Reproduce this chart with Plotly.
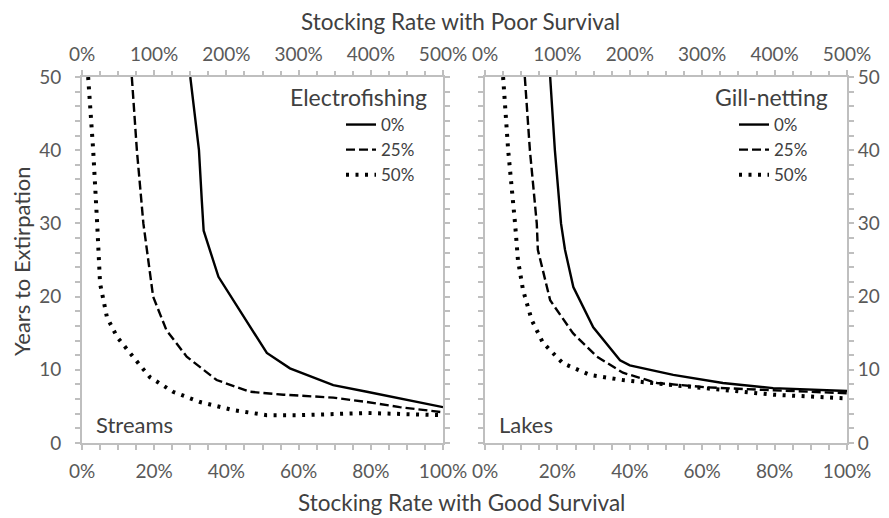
import plotly.graph_objects as go

# ---- data (x = stocking rate with good survival, %) ----
streams_x_0 = [30, 32.4, 33.2, 33.7, 37.8, 46.5, 51.2, 57.6, 69.6, 78.9, 100]
streams_y_0 = [50, 40, 33, 29, 22.7, 15.9, 12.3, 10.2, 7.9, 7.0, 4.9]
streams_x_25 = [13.8, 15.2, 17, 18, 19.7, 23.4, 29, 37.3, 46.5, 55.8, 69.6, 78.9, 88, 100]
streams_y_25 = [50, 40, 30, 26.4, 20, 15.4, 11.8, 8.6, 7.0, 6.6, 6.2, 5.6, 4.9, 4.2]
streams_x_50 = [1.7, 3.1, 4.2, 4.5, 5, 6.9, 9.7, 14.1, 18.8, 25.2, 32.7, 41.8, 51.2, 60.4, 78.9, 100]
streams_y_50 = [50, 40, 30, 26.4, 21.8, 17.2, 14.5, 11.8, 9.0, 7.0, 5.6, 4.5, 3.8, 3.8, 4.1, 3.8]

lakes_x_0 = [18, 19.3, 21, 22.1, 24.4, 29.9, 37.3, 40, 52, 65.7, 79.6, 100]
lakes_y_0 = [50, 40, 30, 26.4, 21.3, 15.8, 11.3, 10.6, 9.3, 8.2, 7.5, 7.1]
lakes_x_25 = [11, 12.4, 14.3, 14.6, 18, 24.3, 30.9, 38.1, 47.5, 61.3, 79.6, 100]
lakes_y_25 = [50, 40, 30, 26.4, 19.5, 15, 11.8, 9.6, 8.2, 7.6, 7.2, 6.8]
lakes_x_50 = [5, 6.4, 8.3, 9.1, 10.5, 12.9, 16, 21.5, 29, 38.1, 52, 65.7, 79.6, 100]
lakes_y_50 = [50, 40, 30, 25, 20.9, 16.8, 13.7, 10.9, 9.3, 8.6, 7.9, 7.2, 6.6, 6.1]

series_names = ["0%", "25%", "50%"]
good_range = [0, 100]
poor_range = [0, 500]
y_range = [0, 50]

FONT = "Lato"
AX = "#bfbfbf"
TXT = "#404040"
TICK = "#595959"
OFF = 8            # page body margin
FW, FH = 889 - OFF, 518 - OFF

def px(x):
    return (x - OFF) / FW

def py(y):
    return 1 - (y - OFF) / FH

styles = [dict(color="black", width=2.4),
          dict(color="black", width=2.4, dash="9px,4px"),
          dict(color="black", width=4, dash="3px,6.5px")]

fig = go.Figure()
for i, (x, y) in enumerate([(streams_x_0, streams_y_0), (streams_x_25, streams_y_25), (streams_x_50, streams_y_50)]):
    fig.add_trace(go.Scatter(x=x, y=y, mode="lines", name=series_names[i], line=styles[i],
                             xaxis="x", yaxis="y", legend="legend", legendgroup="s%d" % i))
for i, (x, y) in enumerate([(lakes_x_0, lakes_y_0), (lakes_x_25, lakes_y_25), (lakes_x_50, lakes_y_50)]):
    fig.add_trace(go.Scatter(x=x, y=y, mode="lines", name=series_names[i], line=styles[i],
                             xaxis="x2", yaxis="y2", legend="legend2", legendgroup="l%d" % i))
# carriers for the secondary (top) axes: draw nothing
fig.add_trace(go.Scatter(x=poor_range, y=y_range, mode="none", xaxis="x3", yaxis="y",
                         showlegend=False, hoverinfo="skip"))
fig.add_trace(go.Scatter(x=poor_range, y=y_range, mode="none", xaxis="x4", yaxis="y2",
                         showlegend=False, hoverinfo="skip"))

xd1 = [px(82), px(443)]
xd2 = [px(485), px(847)]
yd = [py(443), py(77)]

tickfont = dict(family=FONT, size=19, color=TICK)

def xbottom(domain, anchor):
    return dict(domain=domain, anchor=anchor, range=good_range, dtick=20, ticksuffix="%",
                showgrid=False, zeroline=False, showline=True, linecolor=AX, linewidth=2,
                ticks="outside", ticklen=5, tickcolor=AX, tickwidth=1.5, ticklabelstandoff=5,
                minor=dict(dtick=5, ticks="outside", ticklen=5, tickcolor=AX, tickwidth=1.5),
                tickfont=tickfont, fixedrange=True)

def xtop(domain, overlay, anchor):
    return dict(domain=domain, overlaying=overlay, anchor=anchor, side="top", range=poor_range,
                dtick=100, ticksuffix="%", showgrid=False, zeroline=False, showline=True,
                linecolor=AX, linewidth=2, ticks="outside", ticklen=5, tickcolor=AX, tickwidth=1.5,
                ticklabelstandoff=1,
                minor=dict(dtick=25, ticks="outside", ticklen=4, tickcolor=AX, tickwidth=1.5),
                tickfont=tickfont)

def yax(anchor, side, standoff):
    return dict(domain=yd, anchor=anchor, side=side, range=y_range, dtick=10, showgrid=False,
                zeroline=False, showline=True, linecolor=AX, linewidth=2, mirror="ticks",
                ticks="outside", ticklen=5, tickcolor=AX, tickwidth=1.5, ticklabelstandoff=standoff,
                minor=dict(dtick=2, ticks="outside", ticklen=5, tickcolor=AX, tickwidth=1.5),
                tickfont=tickfont)

legend_common = dict(bgcolor="rgba(0,0,0,0)", font=dict(family=FONT, size=17, color=TXT),
                     xanchor="left", yanchor="top", tracegroupgap=0, traceorder="grouped",
                     itemclick=False, borderwidth=0)

fig.update_layout(
    width=FW, height=FH, margin=dict(l=0, r=0, t=0, b=0, autoexpand=False),
    paper_bgcolor="white", plot_bgcolor="white",
    font=dict(family=FONT, color=TXT),
    xaxis=xbottom(xd1, "y"),
    xaxis2=xbottom(xd2, "y2"),
    xaxis3=xtop(xd1, "x", "y"),
    xaxis4=xtop(xd2, "x2", "y2"),
    yaxis=yax("x", "left", 10),
    yaxis2=yax("x2", "right", 0),
    legend=dict(x=px(341), y=py(107), **legend_common),
    legend2=dict(x=px(734), y=py(107), **legend_common),
    showlegend=True,
    annotations=[
        dict(text="Stocking Rate with Poor Survival", x=px(460), y=py(21), xref="paper", yref="paper",
             showarrow=False, font=dict(family=FONT, size=22.5, color=TXT), xanchor="center", yanchor="middle"),
        dict(text="Stocking Rate with Good Survival", x=px(461), y=py(502), xref="paper", yref="paper",
             showarrow=False, font=dict(family=FONT, size=22.5, color=TXT), xanchor="center", yanchor="middle"),
        dict(text="Years to Extirpation", x=px(21), y=py(261), xref="paper", yref="paper",
             textangle=-90, showarrow=False, font=dict(family=FONT, size=22, color=TXT),
             xanchor="center", yanchor="middle"),
        dict(text="Electrofishing", x=px(429), y=py(97), xref="paper", yref="paper",
             showarrow=False, font=dict(family=FONT, size=23, color=TXT), xanchor="right", yanchor="middle"),
        dict(text="Gill-netting", x=px(830), y=py(97), xref="paper", yref="paper",
             showarrow=False, font=dict(family=FONT, size=23, color=TXT), xanchor="right", yanchor="middle"),
        dict(text="Streams", x=px(94), y=py(424), xref="paper", yref="paper",
             showarrow=False, font=dict(family=FONT, size=22, color=TXT), xanchor="left", yanchor="middle"),
        dict(text="Lakes", x=px(497), y=py(424), xref="paper", yref="paper",
             showarrow=False, font=dict(family=FONT, size=22, color=TXT), xanchor="left", yanchor="middle"),
    ],
)

fig.write_html("out.html", default_width="%dpx" % FW, default_height="%dpx" % FH)
